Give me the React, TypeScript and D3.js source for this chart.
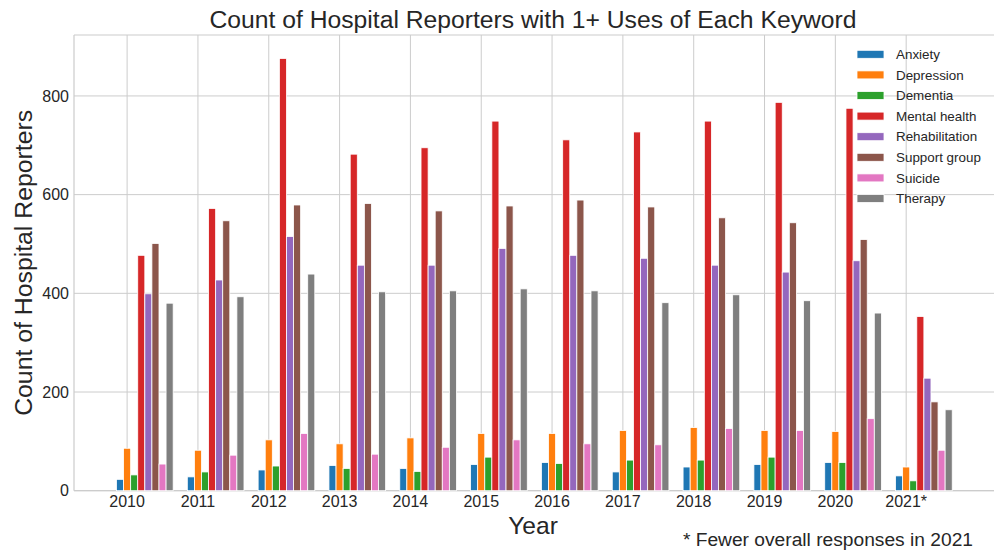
import React from "react";
import * as d3 from "d3";

const years = ["2010","2011","2012","2013","2014","2015","2016","2017","2018","2019","2020","2021*"];
const keywords = ["Anxiety","Depression","Dementia","Mental health","Rehabilitation","Support group","Suicide","Therapy"];
const colors = ["#1f77b4","#ff7f0e","#2ca02c","#d62728","#9467bd","#8c564b","#e377c2","#7f7f7f"];

const anxiety = [23,28,42,51,45,53,57,38,48,53,57,30];
const depression = [86,82,103,95,107,116,116,122,128,122,120,48];
const dementia = [32,38,50,45,39,68,55,62,62,68,57,20];
const mentalHealth = [477,572,876,682,695,749,711,727,749,787,775,353];
const rehabilitation = [399,427,515,457,457,491,477,471,457,443,466,228];
const supportGroup = [501,547,579,582,567,577,589,575,553,543,509,180];
const suicide = [54,72,116,74,88,103,95,93,126,122,146,82];
const therapy = [380,393,439,403,405,409,405,381,397,385,360,164];

const series = [anxiety, depression, dementia, mentalHealth, rehabilitation, supportGroup, suicide, therapy];
const yTicks = [0, 200, 400, 600, 800];

const W = 994, H = 552;
const left = 74, right = 994, top = 35, bottom = 490.7;
const barW = 0.1;

export default function App() {
  const x = d3.scaleLinear().domain([-0.65, 12.34]).range([left, right]);
  const y = d3.scaleLinear().domain([0, 923.5]).range([bottom, top]);
  const pxW = x(barW) - x(0);
  const font = "'Liberation Sans', Arial, sans-serif";
  const grid = "#cccccc";
  const txt = "#262626";
  return (
    <svg width={W} height={H} style={{ position: "absolute", left: 0, top: 0, background: "#fff" }} fontFamily={font}>
      <rect x={0} y={0} width={W} height={H} fill="#fff" />
      {yTicks.map((t) => (
        <line key={"gy" + t} x1={left} x2={right} y1={y(t)} y2={y(t)} stroke={grid} strokeWidth={1} />
      ))}
      {years.map((yr, i) => (
        <line key={"gx" + yr} x1={x(i + barW)} x2={x(i + barW)} y1={top} y2={bottom} stroke={grid} strokeWidth={1} />
      ))}
      <line x1={left} x2={left} y1={top} y2={bottom} stroke={grid} strokeWidth={1.2} />
      <line x1={left} x2={right} y1={top} y2={top} stroke={grid} strokeWidth={1.2} />
      <line x1={left} x2={right} y1={bottom} y2={bottom} stroke={grid} strokeWidth={1.2} />
      {series.map((vals, k) =>
        vals.map((v, i) => {
          const cx = x(i + k * barW);
          return (
            <rect key={k + "-" + i} x={cx - pxW / 2} y={y(v)} width={pxW} height={y(0) - y(v)}
              fill={colors[k]} stroke="#fff" strokeWidth={0.8} />
          );
        })
      )}
      {yTicks.map((t) => (
        <text key={"ty" + t} x={left - 5} y={y(t)} dy="0.35em" textAnchor="end" fontSize={16} fill={txt}>{t}</text>
      ))}
      {years.map((yr, i) => (
        <text key={"tx" + yr} x={x(i + barW)} y={506.5} textAnchor="middle" fontSize={16} fill={txt}>{yr}</text>
      ))}
      <text x={533} y={28} textAnchor="middle" fontSize={24.7} fill={txt}>Count of Hospital Reporters with 1+ Uses of Each Keyword</text>
      <text transform={`translate(32, ${(top + bottom) / 2}) rotate(-90)`} textAnchor="middle" fontSize={24.8} fill={txt}>Count of Hospital Reporters</text>
      <text x={533} y={534} textAnchor="middle" fontSize={24.6} fill={txt}>Year</text>
      <text x={973} y={546} textAnchor="end" fontSize={19.2} fill={txt}>* Fewer overall responses in 2021</text>
      {keywords.map((kw, k) => {
        const ly = 54.3 + k * 20.6;
        return (
          <g key={"lg" + kw}>
            <rect x={857} y={ly - 4} width={27} height={8} fill={colors[k]} stroke="#fff" strokeWidth={0.8} />
            <text x={896} y={ly} dy="0.35em" fontSize={13.4} fill={txt}>{kw}</text>
          </g>
        );
      })}
    </svg>
  );
}
